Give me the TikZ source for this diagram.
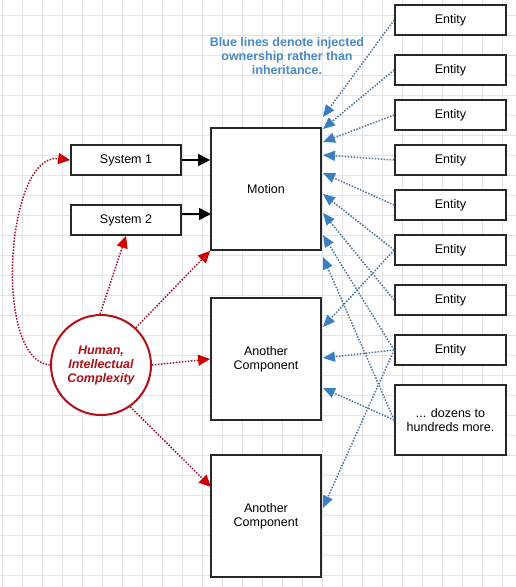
\documentclass[tikz,border=0pt]{standalone}
\usepackage{fontspec}
\setmainfont{Liberation Sans}
\usetikzlibrary{arrows.meta}
\definecolor{gridc}{RGB}{226,228,234}
\definecolor{boxc}{RGB}{40,40,40}
\definecolor{bline}{RGB}{80,118,158}
\definecolor{bhead}{RGB}{58,126,196}
\definecolor{btext}{RGB}{74,138,200}
\definecolor{rline}{RGB}{168,16,40}
\definecolor{rhead}{RGB}{204,0,0}
\definecolor{rcirc}{RGB}{180,16,24}
\definecolor{rtext}{RGB}{176,16,24}
\begin{document}
\begin{tikzpicture}[x=1pt,y=-1pt,
  font=\fontsize{12.5}{14}\selectfont,
  box/.style={draw=boxc,line width=1.8pt,fill=white,inner sep=0pt,align=center},
  ent/.style={box,minimum width=111pt,minimum height=30pt},
  comp/.style={box,minimum width=110pt,minimum height=122pt},
  sys/.style={box,minimum width=110pt,minimum height=30pt},
  blink/.style={bline,line width=1.5pt,dash pattern=on 1.5pt off 1.5pt,-{Triangle[length=12pt,width=10pt,color=bhead]}},
  rlink/.style={rline,line width=1.5pt,dash pattern=on 1.5pt off 1.5pt,-{Triangle[length=12pt,width=11pt,color=rhead]}},
  klink/.style={black,line width=1.5pt,-{Triangle[length=12pt,width=12pt]}}]
\useasboundingbox (0,0) rectangle (516,587);
\fill[white] (0,0) rectangle (516,587);
\foreach \gx in {2,22,...,502} \draw[gridc,line width=0.8pt] (\gx,0) -- (\gx,587);
\foreach \gy in {15,35,...,575} \draw[gridc,line width=0.8pt] (0,\gy) -- (516,\gy);

% blue note
\node[btext,font=\fontsize{12.5}{14}\selectfont\bfseries,align=center] (note) at (287,56)
  {Blue lines denote injected\\ownership rather than\\inheritance.};

% components
\node[comp] (motion) at (266,189) {Motion};
\node[comp] (ac1) at (266,359) {Another\\Component};
\node[comp] (ac2) at (266,516) {Another\\Component};
\node[sys] (s1) at (126,160) {System 1};
\node[sys] (s2) at (126,220) {System 2};

% entities
\node[ent] (e1) at (450.5,20) {Entity};
\node[ent] (e2) at (450.5,70) {Entity};
\node[ent] (e3) at (450.5,115) {Entity};
\node[ent] (e4) at (450.5,160) {Entity};
\node[ent] (e5) at (450.5,205) {Entity};
\node[ent] (e6) at (450.5,250) {Entity};
\node[ent] (e7) at (450.5,300) {Entity};
\node[ent] (e8) at (450.5,350) {Entity};
\node[ent,minimum height=70pt] (dz) at (450.5,420) {... dozens to\\hundreds more.};

% circle
\node[circle,draw=rcirc,line width=2pt,fill=white,minimum size=100pt,inner sep=0pt,
  text=rtext,font=\fontsize{12.5}{14}\selectfont\bfseries\itshape,align=center] (hic) at (101,365)
  {Human,\\Intellectual\\Complexity};

% arrow end coordinates
\coordinate (m1) at (323,117);
\coordinate (m2) at (323,129);
\coordinate (m3) at (323,142);
\coordinate (m4) at (323,155);
\coordinate (m5) at (323,173);
\coordinate (m6) at (323,194);
\coordinate (m7) at (323,213);
\coordinate (m8) at (323,235);
\coordinate (m9) at (323,257);
\coordinate (a1) at (323,327);
\coordinate (a2) at (323,358);
\coordinate (a3) at (323,388);
\coordinate (b1) at (323,508);
\coordinate (s2in) at (211,214);
\coordinate (ac2in) at (211,487);

% blue links
\draw[blink] (e1.west) -- (m1);
\draw[blink] (e2.west) -- (m2);
\draw[blink] (e3.west) -- (m3);
\draw[blink] (e4.west) -- (m4);
\draw[blink] (e5.west) -- (m5);
\draw[blink] (e6.west) -- (m6);
\draw[blink] (e7.west) -- (m7);
\draw[blink] (e8.west) -- (m8);
\draw[blink] (dz.west) -- (m9);
\draw[blink] (e6.west) -- (a1);
\draw[blink] (e8.west) -- (a2);
\draw[blink] (dz.west) -- (a3);
\draw[blink] (e8.west) -- (b1);

% black links
\draw[klink] (s1.east) -- (motion.west |- s1.east);
\draw[klink] (s2.east |- s2in) -- (s2in);

% red links
\draw[rlink] (hic.west) .. controls (-8,360) and (6,152) .. (s1.west);
\draw[rlink] (hic.91) -- (s2.south);
\draw[rlink] (hic.47) -- (motion.south west);
\draw[rlink] (hic.east) -- (ac1.west);
\draw[rlink] (hic.-55) -- (ac2in);
\end{tikzpicture}
\end{document}
